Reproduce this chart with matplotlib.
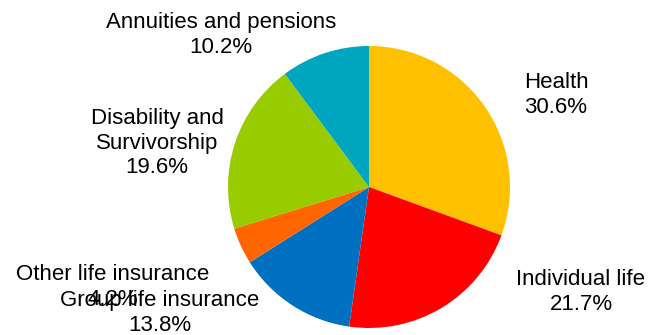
import matplotlib
matplotlib.use("Agg")
import matplotlib.pyplot as plt

categories = ["Health", "Individual life", "Group life insurance",
              "Other life insurance", "Disability and\nSurvivorship",
              "Annuities and pensions"]
shares = [30.6, 21.7, 13.8, 4.2, 19.6, 10.2]
colors = ["#FFC000", "#FF0000", "#0070C0", "#FF6600", "#99CC00", "#00A6BF"]

# label anchor (centre of text block) in pixel coordinates, y measured from the bottom
label_pos = [(556, 240), (581, 43), (160, 22), (113, 48), (157, 192), (221, 300)]

W, H = 653, 335
fig = plt.figure(figsize=(W / 100, H / 100), dpi=100)
ax = fig.add_axes([0, 0, 1, 1])

ax.pie(shares, colors=colors, startangle=90, counterclock=False,
       center=(369, 148), radius=141, frame=True,
       wedgeprops=dict(linewidth=0))
ax.set_xlim(0, W)
ax.set_ylim(0, H)
ax.set_aspect("equal")
ax.axis("off")

for name, val, (x, y) in zip(categories, shares, label_pos):
    ax.text(x, y, f"{name}\n{val:.1f}%", ha="center", va="center",
            fontsize=16, family="Liberation Sans", color="#000000",
            linespacing=1.22)

fig.savefig("out.png", dpi=100)
